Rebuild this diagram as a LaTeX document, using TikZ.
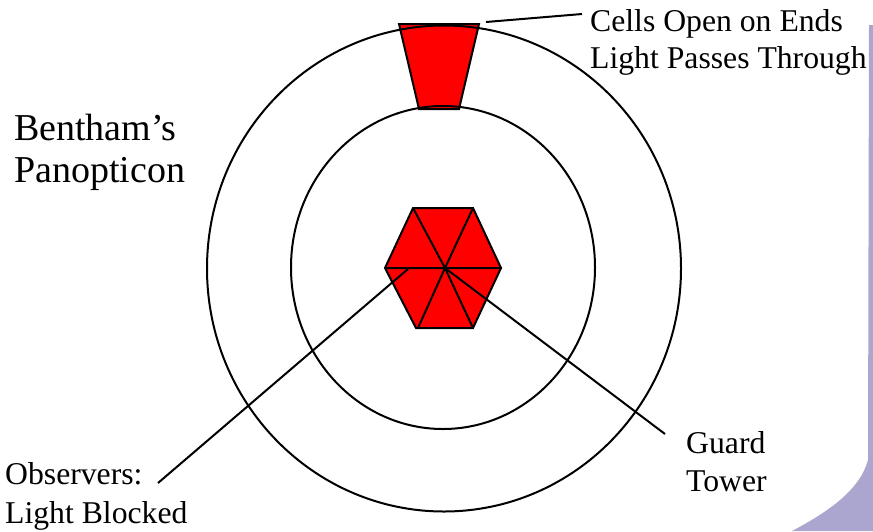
\documentclass[tikz,border=0pt]{standalone}
\usepackage{fontspec}
\usetikzlibrary{shapes.geometric}
\setmainfont{Liberation Serif}
\definecolor{lav}{HTML}{ABA6CF}
\begin{document}
\begin{tikzpicture}[x=1pt,y=-1pt,
  ln/.style={draw=black,line width=2pt},
  redf/.style={ln,fill=red,line join=miter},
  lab/.style={inner sep=0pt,anchor=base west,align=left,font=\fontsize{31.7}{37}\selectfont},
  big/.style={inner sep=0pt,anchor=base west,font=\fontsize{38}{46}\selectfont}]
\useasboundingbox (0,0) rectangle (873,531);
\fill[white] (0,0) rectangle (873,531);
% lavender slide edge
\fill[lav] (869,25) -- (873,25) -- (873,531) -- (792,531) .. controls (828,512) and (860,490) .. (868,460) -- cycle;
% cell
\coordinate (t1) at (399,24);\coordinate (t2) at (479,24);\coordinate (t3) at (459,109);\coordinate (t4) at (419,109);
\draw[redf] (t1)--(t2)--(t3)--(t4)--cycle;
% hexagon
\coordinate (c) at (445,268);
\coordinate (h1) at (413,208);\coordinate (h2) at (473,208);\coordinate (h3) at (501,268);
\coordinate (h4) at (473,328);\coordinate (h5) at (416,328);\coordinate (h6) at (385,268);
\coordinate (h7) at (418,328);
\draw[redf] (h1)--(h2)--(h3)--(h4)--(h5)--(h6)--cycle;
\draw[ln] (h1)--(c)--(h2) (h6)--(h3) (h7)--(c)--(h4);
% rings
\node[ln,ellipse,minimum width=474pt,minimum height=486pt,inner sep=0pt] (outer) at (444,268.5) {};
\node[ln,ellipse,minimum width=304pt,minimum height=323pt,inner sep=0pt] (inner) at (443,267.5) {};
% labels
\node[big] (title1) at (14,140) {Bentham’s};
\node[big] (title2) at (14,182) {Panopticon};
\node[lab] (cells) at (590,31) {Cells Open on Ends};
\node[lab] (light) at (590,68) {Light Passes Through};
\node[lab] (guard) at (686,453) {Guard};
\node[lab] (tower) at (686,491) {Tower};
\node[lab] (obs) at (5,484) {Observers:};
\node[lab] (blocked) at (5,523) {Light Blocked};
% leaders
\coordinate (cellEnd) at (486,22);\coordinate (cellLab) at (582,14);
\coordinate (obsIn) at (408,269);\coordinate (obsOut) at (158,483);
\coordinate (guardOut) at (665,434);
\draw[ln] (cellEnd)--(cellLab);
\draw[ln] (obsIn)--(obsOut);
\draw[ln] (c)--(guardOut);
\end{tikzpicture}
\end{document}
